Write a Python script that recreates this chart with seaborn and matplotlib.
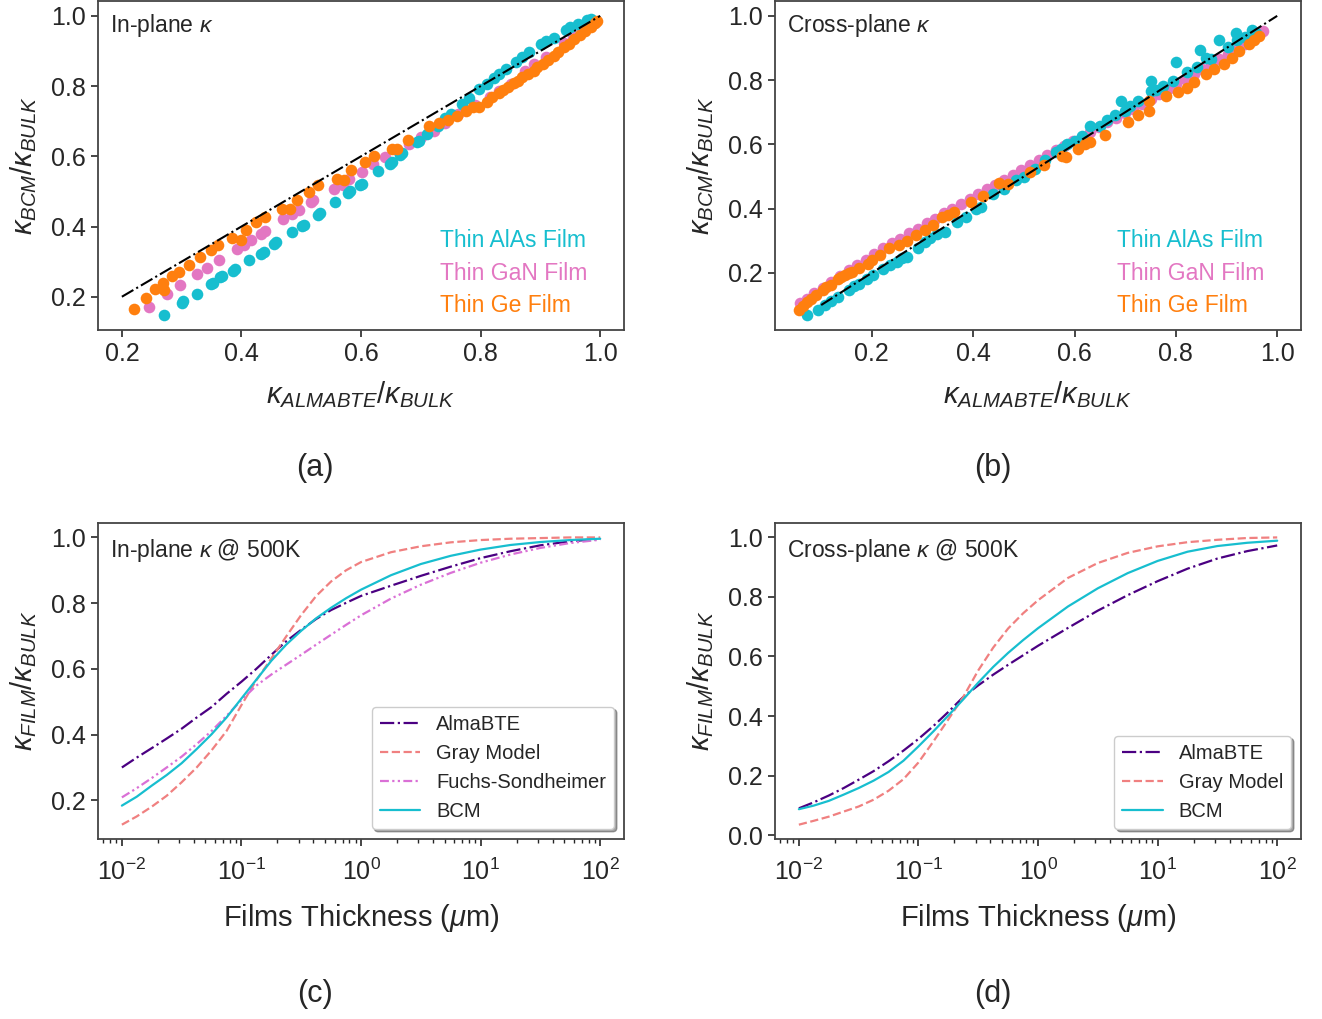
import matplotlib
matplotlib.use("Agg")
import matplotlib.pyplot as plt
import seaborn as sns

# scatter data, top panels
alas_a_x = [0.271, 0.300, 0.303, 0.325, 0.349, 0.352, 0.364, 0.368, 0.386, 0.390, 0.413, 0.433, 0.437,
            0.454, 0.457, 0.484, 0.501, 0.505, 0.528, 0.531, 0.557, 0.578, 0.582, 0.599, 0.602, 0.628,
            0.648, 0.652, 0.666, 0.669, 0.693, 0.697, 0.710, 0.728, 0.740, 0.751, 0.769, 0.780, 0.798,
            0.810, 0.822, 0.830, 0.842, 0.860, 0.870, 0.881, 0.901, 0.910, 0.922, 0.942, 0.950, 0.963,
            0.978, 0.985]
alas_a_y = [0.148, 0.183, 0.188, 0.208, 0.236, 0.240, 0.255, 0.260, 0.274, 0.278, 0.306, 0.321, 0.327,
            0.350, 0.356, 0.385, 0.401, 0.405, 0.432, 0.438, 0.470, 0.495, 0.500, 0.517, 0.522, 0.558,
            0.579, 0.585, 0.605, 0.610, 0.640, 0.645, 0.664, 0.685, 0.710, 0.721, 0.749, 0.765, 0.792,
            0.806, 0.823, 0.835, 0.849, 0.870, 0.883, 0.896, 0.920, 0.928, 0.938, 0.959, 0.968, 0.978,
            0.988, 0.992]

gan_a_x = [0.245, 0.276, 0.298, 0.325, 0.343, 0.363, 0.393, 0.405, 0.416, 0.432, 0.440, 0.469, 0.484,
           0.496, 0.516, 0.520, 0.554, 0.569, 0.580, 0.601, 0.620, 0.640, 0.660, 0.681, 0.700, 0.722,
           0.740, 0.763, 0.790, 0.816, 0.830, 0.851, 0.875, 0.890, 0.910, 0.939, 0.955, 0.969, 0.989]
gan_a_y = [0.172, 0.208, 0.233, 0.264, 0.283, 0.306, 0.337, 0.347, 0.363, 0.380, 0.388, 0.422, 0.437,
           0.446, 0.470, 0.475, 0.508, 0.517, 0.535, 0.555, 0.577, 0.598, 0.617, 0.635, 0.655, 0.673,
           0.695, 0.721, 0.745, 0.768, 0.787, 0.806, 0.844, 0.862, 0.882, 0.924, 0.940, 0.957, 0.981]

ge_a_x = [0.221, 0.240, 0.255, 0.269, 0.270, 0.284, 0.296, 0.313, 0.331, 0.349, 0.360, 0.384, 0.399,
          0.408, 0.425, 0.440, 0.468, 0.481, 0.493, 0.513, 0.528, 0.560, 0.572, 0.584, 0.607, 0.622,
          0.651, 0.660, 0.678, 0.713, 0.730, 0.745, 0.760, 0.775, 0.787, 0.798, 0.810, 0.819, 0.830,
          0.837, 0.845, 0.855, 0.862, 0.869, 0.880, 0.889, 0.895, 0.904, 0.912, 0.922, 0.930, 0.939,
          0.948, 0.957, 0.966, 0.975, 0.984, 0.992, 0.995]
ge_a_y = [0.164, 0.197, 0.221, 0.240, 0.219, 0.259, 0.271, 0.290, 0.314, 0.333, 0.347, 0.366, 0.363,
          0.389, 0.413, 0.427, 0.451, 0.451, 0.476, 0.498, 0.517, 0.536, 0.533, 0.562, 0.583, 0.602,
          0.621, 0.621, 0.647, 0.685, 0.695, 0.702, 0.715, 0.728, 0.740, 0.740, 0.755, 0.770, 0.780,
          0.789, 0.797, 0.808, 0.815, 0.825, 0.835, 0.844, 0.853, 0.863, 0.874, 0.886, 0.897, 0.910,
          0.921, 0.934, 0.946, 0.957, 0.969, 0.981, 0.985]

alas_b_x = [0.073, 0.093, 0.107, 0.120, 0.134, 0.154, 0.165, 0.175, 0.190, 0.202, 0.222, 0.235, 0.250,
            0.260, 0.270, 0.291, 0.304, 0.315, 0.328, 0.345, 0.369, 0.385, 0.406, 0.416, 0.440, 0.460,
            0.485, 0.500, 0.522, 0.542, 0.563, 0.573, 0.585, 0.600, 0.614, 0.631, 0.651, 0.665, 0.679,
            0.692, 0.699, 0.710, 0.726, 0.750, 0.750, 0.760, 0.774, 0.794, 0.801, 0.822, 0.842, 0.847,
            0.860, 0.869, 0.886, 0.903, 0.919, 0.920, 0.937, 0.950, 0.958]
alas_b_y = [0.069, 0.086, 0.100, 0.113, 0.125, 0.146, 0.158, 0.167, 0.180, 0.193, 0.213, 0.225, 0.234,
            0.245, 0.250, 0.276, 0.296, 0.310, 0.322, 0.327, 0.358, 0.375, 0.400, 0.405, 0.446, 0.460,
            0.488, 0.500, 0.524, 0.550, 0.576, 0.586, 0.600, 0.612, 0.627, 0.658, 0.658, 0.675, 0.690,
            0.736, 0.705, 0.720, 0.736, 0.767, 0.798, 0.770, 0.783, 0.798, 0.855, 0.824, 0.840, 0.893,
            0.870, 0.865, 0.924, 0.902, 0.948, 0.925, 0.933, 0.955, 0.948]

gan_b_x = [0.059, 0.072, 0.086, 0.103, 0.120, 0.137, 0.154, 0.171, 0.188, 0.205, 0.222, 0.239, 0.256,
           0.274, 0.291, 0.308, 0.325, 0.342, 0.359, 0.376, 0.393, 0.410, 0.427, 0.444, 0.461, 0.478,
           0.495, 0.512, 0.529, 0.546, 0.563, 0.580, 0.597, 0.614, 0.631, 0.648, 0.665, 0.682, 0.699,
           0.716, 0.733, 0.750, 0.767, 0.784, 0.801, 0.818, 0.835, 0.852, 0.869, 0.886, 0.903, 0.920,
           0.937, 0.954, 0.971]
gan_b_y = [0.105, 0.120, 0.136, 0.154, 0.172, 0.190, 0.208, 0.224, 0.239, 0.258, 0.276, 0.292, 0.307,
           0.323, 0.338, 0.354, 0.369, 0.385, 0.400, 0.416, 0.431, 0.447, 0.462, 0.475, 0.488, 0.504,
           0.519, 0.535, 0.550, 0.566, 0.581, 0.596, 0.610, 0.624, 0.638, 0.654, 0.669, 0.683, 0.697,
           0.711, 0.726, 0.742, 0.757, 0.773, 0.788, 0.804, 0.819, 0.835, 0.850, 0.866, 0.881, 0.897,
           0.912, 0.933, 0.953]

ge_b_x = [0.056, 0.065, 0.073, 0.080, 0.090, 0.103, 0.110, 0.120, 0.134, 0.140, 0.148, 0.155, 0.161,
          0.175, 0.192, 0.200, 0.216, 0.233, 0.253, 0.270, 0.287, 0.305, 0.321, 0.338, 0.350, 0.362,
          0.396, 0.420, 0.451, 0.468, 0.512, 0.540, 0.576, 0.583, 0.607, 0.620, 0.631, 0.660, 0.706,
          0.726, 0.747, 0.747, 0.780, 0.805, 0.822, 0.835, 0.860, 0.876, 0.896, 0.910, 0.924, 0.944,
          0.955, 0.965]
ge_b_y = [0.084, 0.097, 0.110, 0.120, 0.131, 0.146, 0.155, 0.162, 0.182, 0.188, 0.193, 0.200, 0.203,
          0.215, 0.229, 0.240, 0.255, 0.276, 0.286, 0.300, 0.317, 0.333, 0.348, 0.374, 0.380, 0.389,
          0.420, 0.440, 0.479, 0.477, 0.514, 0.535, 0.565, 0.560, 0.586, 0.600, 0.607, 0.630, 0.669,
          0.690, 0.705, 0.736, 0.750, 0.762, 0.777, 0.793, 0.820, 0.834, 0.850, 0.870, 0.891, 0.912,
          0.925, 0.938]

diag_a = [0.2, 1.0]
diag_b = [0.1, 1.0]

# line data, bottom panels (um)
thickness = [0.01, 0.0133, 0.0178, 0.0237, 0.0316, 0.0422, 0.0562, 0.075, 0.1,
             0.133, 0.178, 0.237, 0.316, 0.422, 0.562, 0.75, 1.0,
             1.78, 3.16, 5.62, 10.0, 17.8, 31.6, 56.2, 100.0]

alma_c = [0.300, 0.330, 0.359, 0.388, 0.418, 0.452, 0.484, 0.524, 0.561,
          0.600, 0.643, 0.684, 0.719, 0.752, 0.779, 0.801, 0.822,
          0.853, 0.883, 0.911, 0.937, 0.958, 0.976, 0.988, 0.996]
gray_c = [0.126, 0.151, 0.181, 0.214, 0.255, 0.300, 0.352, 0.411, 0.490,
          0.565, 0.632, 0.699, 0.764, 0.822, 0.866, 0.900, 0.925,
          0.955, 0.973, 0.985, 0.992, 0.996, 0.998, 1.0, 1.0]
fs_c = [0.209, 0.237, 0.268, 0.300, 0.333, 0.371, 0.411, 0.457, 0.505,
        0.549, 0.583, 0.613, 0.643, 0.674, 0.704, 0.734, 0.763,
        0.814, 0.856, 0.892, 0.923, 0.948, 0.968, 0.983, 0.993]
bcm_c = [0.184, 0.211, 0.245, 0.277, 0.313, 0.356, 0.401, 0.452, 0.510,
         0.567, 0.625, 0.674, 0.716, 0.754, 0.786, 0.815, 0.841,
         0.885, 0.919, 0.944, 0.963, 0.977, 0.986, 0.992, 0.996]

alma_d = [0.090, 0.110, 0.133, 0.158, 0.186, 0.215, 0.248, 0.284, 0.323,
          0.366, 0.414, 0.464, 0.503, 0.539, 0.572, 0.604, 0.636,
          0.696, 0.754, 0.806, 0.853, 0.895, 0.929, 0.954, 0.973]
gray_d = [0.035, 0.048, 0.062, 0.079, 0.096, 0.119, 0.149, 0.188, 0.244,
          0.314, 0.389, 0.464, 0.553, 0.630, 0.694, 0.745, 0.789,
          0.864, 0.914, 0.948, 0.970, 0.984, 0.992, 0.998, 1.0]
bcm_d = [0.087, 0.099, 0.115, 0.136, 0.158, 0.183, 0.212, 0.250, 0.298,
         0.348, 0.402, 0.456, 0.512, 0.565, 0.612, 0.655, 0.695,
         0.768, 0.829, 0.880, 0.921, 0.952, 0.971, 0.982, 0.989]

film_names = ["Thin AlAs Film", "Thin GaN Film", "Thin Ge Film"]
c_alas = "#17becf"
c_gan = "#e377c2"
c_ge = "#ff7f0e"
c_alma = "#4b0082"
c_gray = "#f08080"
c_fs = "#da70d6"
c_bcm = "#17becf"

sns.set_style("ticks")
plt.rcParams["font.family"] = ["Liberation Sans", "DejaVu Sans"]
plt.rcParams["mathtext.fontset"] = "custom"
plt.rcParams["mathtext.rm"] = "Liberation Sans"
plt.rcParams["mathtext.it"] = "Liberation Sans:italic"
plt.rcParams["mathtext.bf"] = "Liberation Sans:bold"

fig = plt.figure(figsize=(13.22, 10.19), dpi=100)
ax_a = fig.add_axes([0.0741, 0.6762, 0.398, 0.3229])
ax_b = fig.add_axes([0.5862, 0.6762, 0.398, 0.3229])
ax_c = fig.add_axes([0.0741, 0.1766, 0.398, 0.3101])
ax_d = fig.add_axes([0.5862, 0.1766, 0.398, 0.3101])

lab_fs = 21
tick_fs = 18
txt_fs = 16.5

# top panels
for ax, alas, gan, ge, diag, title in [
        (ax_a, (alas_a_x, alas_a_y), (gan_a_x, gan_a_y), (ge_a_x, ge_a_y), diag_a, r"In-plane $\kappa$"),
        (ax_b, (alas_b_x, alas_b_y), (gan_b_x, gan_b_y), (ge_b_x, ge_b_y), diag_b, r"Cross-plane $\kappa$")]:
    sns.scatterplot(x=gan[0], y=gan[1], color=c_gan, s=70, linewidth=0, ax=ax, zorder=2)
    sns.scatterplot(x=alas[0], y=alas[1], color=c_alas, s=70, linewidth=0, ax=ax, zorder=2)
    sns.scatterplot(x=ge[0], y=ge[1], color=c_ge, s=70, linewidth=0, ax=ax, zorder=2)
    ax.plot(diag, diag, color="black", linestyle="-.", linewidth=1.5, zorder=3)
    ax.text(0.023, 0.924, title, transform=ax.transAxes, fontsize=txt_fs, va="center")
    for name, col, yy in zip(film_names, [c_alas, c_gan, c_ge], [0.273, 0.173, 0.073]):
        ax.text(0.651, yy, name, color=col, transform=ax.transAxes, fontsize=txt_fs, va="center")
    ax.set_xlabel(r"$\kappa_{ALMABTE}/\kappa_{BULK}$", fontsize=lab_fs, labelpad=10)
    ax.set_ylabel(r"$\kappa_{BCM}/\kappa_{BULK}$", fontsize=lab_fs, labelpad=9)

# bottom panels
fs_dash = (0, (4, 1.5, 1, 1.5, 1, 1.5))
sns.lineplot(x=thickness, y=alma_c, color=c_alma, linestyle="-.", linewidth=1.6, label="AlmaBTE", ax=ax_c)
sns.lineplot(x=thickness, y=gray_c, color=c_gray, linestyle="--", linewidth=1.6, label="Gray Model", ax=ax_c)
sns.lineplot(x=thickness, y=fs_c, color=c_fs, linestyle=fs_dash, linewidth=1.6,
             label="Fuchs-Sondheimer", ax=ax_c)
sns.lineplot(x=thickness, y=bcm_c, color=c_bcm, linestyle="-", linewidth=1.6, label="BCM", ax=ax_c)

sns.lineplot(x=thickness, y=alma_d, color=c_alma, linestyle="-.", linewidth=1.6, label="AlmaBTE", ax=ax_d)
sns.lineplot(x=thickness, y=gray_d, color=c_gray, linestyle="--", linewidth=1.6, label="Gray Model", ax=ax_d)
sns.lineplot(x=thickness, y=bcm_d, color=c_bcm, linestyle="-", linewidth=1.6, label="BCM", ax=ax_d)

for ax, title in [(ax_c, r"In-plane $\kappa$ @ 500K"), (ax_d, r"Cross-plane $\kappa$ @ 500K")]:
    ax.set_xscale("log")
    ax.text(0.023, 0.914, title, transform=ax.transAxes, fontsize=txt_fs, va="center")
    ax.set_xlabel(r"Films Thickness ($\mu$m)", fontsize=lab_fs, labelpad=12)
    ax.set_ylabel(r"$\kappa_{FILM}/\kappa_{BULK}$", fontsize=lab_fs, labelpad=9)
    ax.legend(loc="lower right", fontsize=14.5, shadow=True, fancybox=True, framealpha=1)
    ax.tick_params(axis="x", which="major", pad=9)

for ax in [ax_a, ax_b, ax_c, ax_d]:
    ax.tick_params(axis="both", which="major", labelsize=tick_fs, length=5, width=1.2)
    ax.tick_params(axis="both", which="minor", length=3, width=1)
    for sp in ax.spines.values():
        sp.set_color("#444444")
        sp.set_linewidth(1.3)

for lab, x, y in [("(a)", 0.238, 0.541), ("(b)", 0.751, 0.541), ("(c)", 0.238, 0.025), ("(d)", 0.751, 0.025)]:
    fig.text(x, y, lab, fontsize=22, ha="center", va="center")

fig.savefig("out.png", dpi=100)
